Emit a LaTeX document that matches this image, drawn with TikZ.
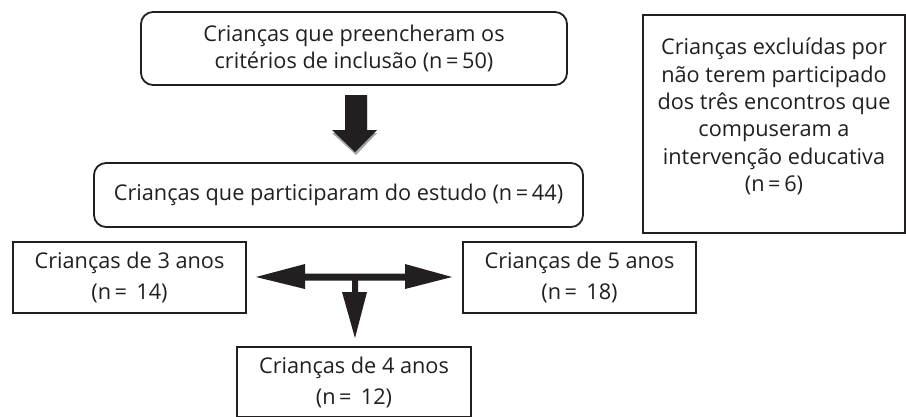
\documentclass[tikz,border=0pt]{standalone}
\usepackage{fontspec}
\setmainfont{Open Sans}
\definecolor{ink}{HTML}{231F20}
\begin{document}
\begin{tikzpicture}[x=1pt,y=-1pt,
  box/.style={draw=ink, line width=1.8pt, text=ink, align=center, inner sep=0pt},
  rbox/.style={box, rounded corners=12pt},
  fa/.style={font=\fontsize{21.7}{27.4}\selectfont},
  fb/.style={font=\fontsize{21.7}{31}\selectfont},
  blk/.style={fill=ink, draw=none},
  shade/.style={fill=gray!70, draw=none}]
\useasboundingbox (0,0) rectangle (906,416);
\fill[white] (0,0) rectangle (906,416);

\node[rbox, fa, minimum width=426pt, minimum height=73pt] (top) at (354,48.5)
  {Crianças que preencheram os\\critérios de inclusão (n\,=\,50)};
\node[rbox, fa, minimum width=489pt, minimum height=64pt] (part) at (338.5,195)
  {Crianças que participaram do estudo (n\,=\,44)};
\node[box, minimum width=262pt, minimum height=218pt] (excl) at (774,124) {};
\node[fa, text=ink, align=center, inner sep=0pt] (excltxt) at (774,116.5)
  {Crianças excluídas por\\não terem participado\\dos três encontros que\\compuseram a\\intervenção educativa\\(n\,=\,6)};
\node[box, fb, minimum width=233pt, minimum height=71pt] (a3) at (129.5,277.5)
  {Crianças de 3 anos\\(n\,=\ \,14)};
\node[box, fb, minimum width=233pt, minimum height=71pt] (a5) at (579.5,277.5)
  {Crianças de 5 anos\\(n\,=\ \,18)};
\node[box, fb, minimum width=234pt, minimum height=70pt] (a4) at (354,382)
  {Crianças de 4 anos\\(n\,=\ \,12)};

% block arrow top -> part
\fill[shade] (345,98) -- (367,98) -- (367,133) -- (377,133) -- (356,155) -- (332,133) -- (345,133) -- cycle;
\fill[blk] (345,95) -- (367,95) -- (367,130) -- (377,130) -- (355,152) -- (332,130) -- (345,130) -- cycle;

% three-way arrow
\fill[blk] (256,277) -- (305,264) -- (305,273.5) -- (405,273.5) -- (405,264) -- (452,277)
  -- (405,289) -- (405,280.5) -- (358,280.5) -- (358,292) -- (367,292) -- (355,338)
  -- (342,292) -- (352,292) -- (352,280.5) -- (305,280.5) -- (305,289) -- cycle;
\end{tikzpicture}
\end{document}
